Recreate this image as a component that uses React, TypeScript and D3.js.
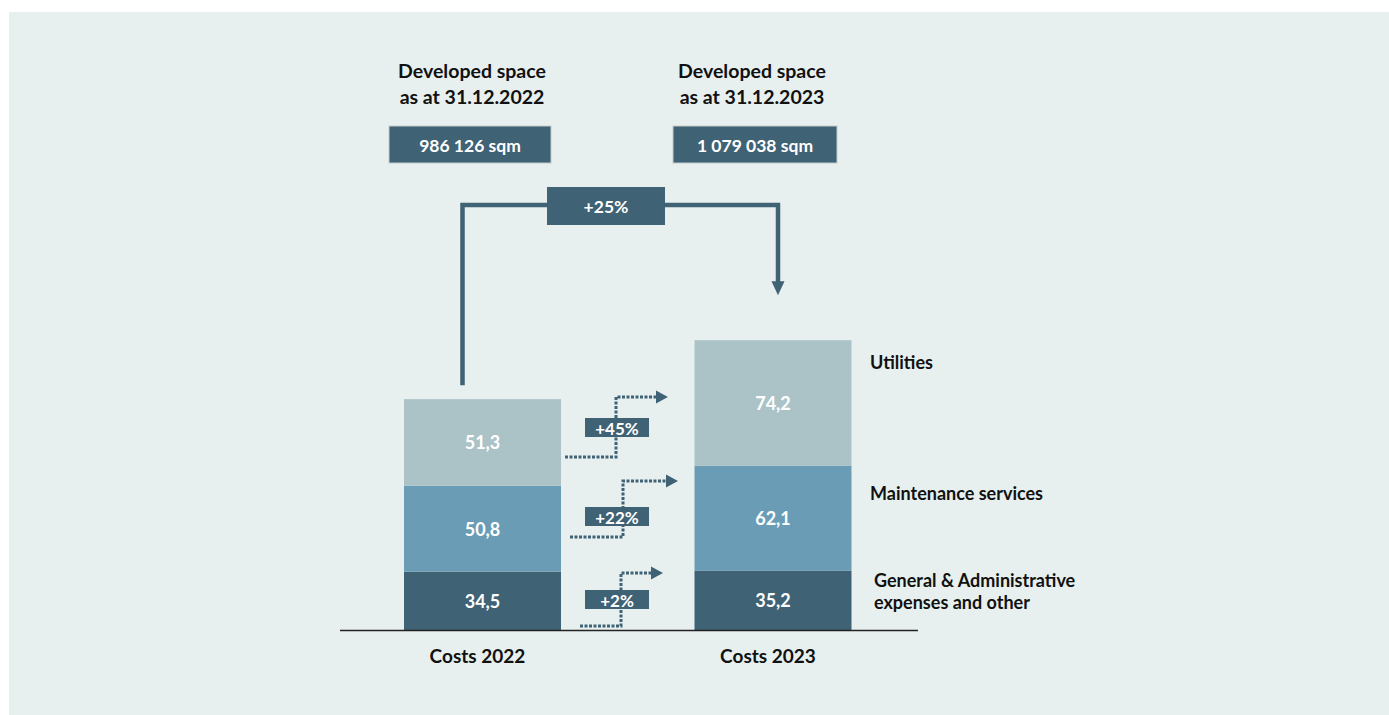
import React from "react";
import * as d3 from "d3";

const categories = ["Costs 2022", "Costs 2023"];
const seriesNames = ["General & Administrative\nexpenses and other", "Maintenance services", "Utilities"];
const values2022 = [34.5, 50.8, 51.3];
const values2023 = [35.2, 62.1, 74.2];
const growthLabels = ["+2%", "+22%", "+45%"];
const spaceTitles = ["Developed space\nas at 31.12.2022", "Developed space\nas at 31.12.2023"];
const spaceValues = ["986 126 sqm", "1 079 038 sqm"];
const spaceGrowth = "+25%";

const W = 1389;
const H = 715;
const COLORS = ["#3f6275", "#6a9db5", "#abc3c7"];
const DARK = "#3f6275";
const BG = "#e7f0ef";
const FONT = "Lato, 'Open Sans', sans-serif";

// layout for annotation arrows (pixel positions of annotation connectors)
const growthArrows = [
  { x0: 580, y0: 626, xv: 621, y1: 573, x1: 663, box: 590 },
  { x0: 570, y0: 537, xv: 623, y1: 481, x1: 678, box: 507 },
  { x0: 565, y0: 457, xv: 616, y1: 397, x1: 668, box: 418 },
];

export default function App() {
  const baseY = 630;
  const y = d3.scaleLinear().domain([0, 180]).range([baseY, baseY - 180 * 1.69]);
  const x = d3
    .scaleBand<string>()
    .domain(categories)
    .range([404, 851.5])
    .paddingInner(1 - 157 / 290.5)
    .paddingOuter(0);

  const data = [values2022, values2023];
  const stack = data.map((vals) => {
    let acc = 0;
    return vals.map((v) => {
      const s = { y0: acc, y1: acc + v, v };
      acc += v;
      return s;
    });
  });

  const bw = x.bandwidth();
  const cx = categories.map((c) => (x(c) as number) + bw / 2);
  const fmt = (v: number) => v.toFixed(1).replace(".", ",");

  const top2022 = y(d3.sum(values2022));
  const top2023 = y(d3.sum(values2023));

  const lx = cx[0] - 20;
  const rx = cx[1] + 5;
  const lineY = 205;
  const arrowTip = top2023 - 45;

  return (
    <div style={{ position: "absolute", left: 0, top: 0 }}>
      <svg width={W} height={H} style={{ display: "block" }} fontFamily={FONT}>
        <rect x={9} y={12} width={W - 9} height={H - 12} fill={BG} />

        {/* space headers */}
        {spaceTitles.map((t, i) => {
          const c = i === 0 ? 472 : 752;
          const lines = t.split("\n");
          return (
            <g key={"h" + i}>
              {lines.map((l, j) => (
                <text key={j} x={c} y={78 + j * 26} textAnchor="middle" fontSize={19.5} fontWeight={700} fill="#111">
                  {l}
                </text>
              ))}
              <rect x={c - (i === 0 ? 83 : 79)} y={126} width={i === 0 ? 162 : 164} height={37} fill={DARK} stroke="#c5cbcc" strokeWidth={1} />
              <text x={c - (i === 0 ? 2 : -3)} y={145} textAnchor="middle" dominantBaseline="central" fontSize={17.5} fontWeight={700} fill="#fff">
                {spaceValues[i]}
              </text>
            </g>
          );
        })}

        {/* +25% connector */}
        <path
          d={`M${lx},${top2022 - 14} V${lineY} H${rx} V${arrowTip - 13}`}
          fill="none"
          stroke={DARK}
          strokeWidth={4.5}
        />
        <path d={`M${rx - 6.5},${arrowTip - 14} L${rx + 6.5},${arrowTip - 14} L${rx},${arrowTip} Z`} fill={DARK} />
        <rect x={547} y={187} width={118} height={38} fill={DARK} />
        <text x={606} y={206} textAnchor="middle" dominantBaseline="central" fontSize={17.5} fontWeight={700} fill="#fff">
          {spaceGrowth}
        </text>

        {/* bars */}
        {stack.map((segs, i) =>
          segs.map((s, j) => (
            <g key={`b${i}-${j}`}>
              <rect
                x={x(categories[i])}
                y={y(s.y1)}
                width={bw}
                height={y(s.y0) - y(s.y1)}
                fill={COLORS[j]}
              />
              <text
                x={cx[i]}
                y={(y(s.y0) + y(s.y1)) / 2}
                textAnchor="middle"
                dominantBaseline="central"
                fontSize={18}
                fontWeight={700}
                fill="#fff"
              >
                {fmt(s.v)}
              </text>
            </g>
          ))
        )}

        {/* baseline */}
        <line x1={340} x2={918} y1={baseY + 0.5} y2={baseY + 0.5} stroke="#222" strokeWidth={1.5} />

        {/* growth arrows */}
        {growthArrows.map((a, i) => (
          <g key={"g" + i}>
            <path
              d={`M${a.x0},${a.y0} H${a.xv} V${a.y1} H${a.x1 - 11}`}
              fill="none"
              stroke={DARK}
              strokeWidth={3}
              strokeDasharray="3,1.5"
            />
            <path d={`M${a.x1 - 12},${a.y1 - 6.5} L${a.x1},${a.y1} L${a.x1 - 12},${a.y1 + 6.5} Z`} fill={DARK} />
            <rect x={585} y={a.box} width={64} height={19} fill={DARK} />
            <text x={617} y={a.box + 10} textAnchor="middle" dominantBaseline="central" fontSize={17} fontWeight={700} fill="#fff">
              {growthLabels[i]}
            </text>
          </g>
        ))}

        {/* series labels */}
        {seriesNames.map((n, j) => {
          const lines = n.split("\n");
          const yy = j === 0 ? 587 : j === 1 ? 500 : 369;
          const xx = j === 0 ? 874 : 870;
          return (
            <g key={"s" + j}>
              {lines.map((l, k) => (
                <text key={k} x={xx} y={yy + k * 22} fontSize={18} fontWeight={700} fill="#111">
                  {l}
                </text>
              ))}
            </g>
          );
        })}

        {/* category labels */}
        {categories.map((c, i) => (
          <text key={c} x={cx[i] - 5} y={663} textAnchor="middle" fontSize={19} fontWeight={700} fill="#111">
            {c}
          </text>
        ))}
      </svg>
    </div>
  );
}
